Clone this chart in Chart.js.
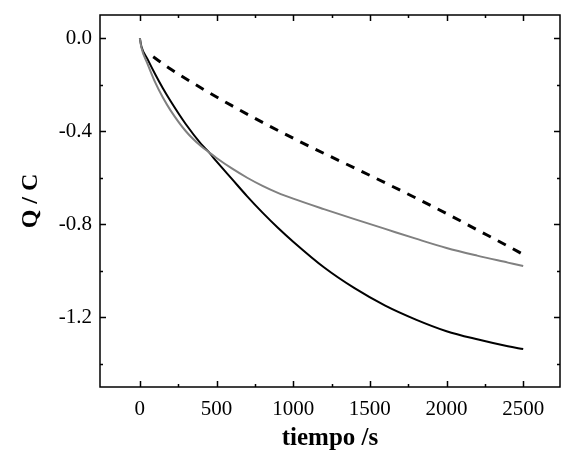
<!DOCTYPE html>
<html>
<head>
<meta charset="utf-8">
<script src="https://cdn.jsdelivr.net/npm/chart.js@4/dist/chart.umd.min.js"></script>
<style>
  html, body { margin: 0; padding: 0; background: #fff; }
  #wrap { width: 561px; height: 458px; }
</style>
</head>
<body>
<div id="wrap"><canvas id="qChart" width="561" height="458"></canvas></div>
<script>
// Datos
const tiempo = [0, 10, 50, 100, 150, 200, 300, 400, 450, 500, 600, 700, 800, 900, 1000, 1200, 1400, 1600, 1800, 2000, 2200, 2400, 2500];
const qNegro = [0, -0.035, -0.09, -0.155, -0.215, -0.27, -0.37, -0.455, -0.49, -0.53, -0.605, -0.68, -0.75, -0.815, -0.875, -0.985, -1.075, -1.15, -1.21, -1.26, -1.295, -1.325, -1.337];
const qGris = [0, -0.04, -0.11, -0.19, -0.255, -0.31, -0.40, -0.465, -0.49, -0.515, -0.56, -0.60, -0.635, -0.665, -0.69, -0.735, -0.778, -0.82, -0.862, -0.902, -0.935, -0.965, -0.98];
const tiempoDisc = [87, 200, 400, 600, 800, 1000, 1200, 1400, 1600, 1800, 2000, 2200, 2400, 2500];
const qDisc = [-0.08, -0.132, -0.214, -0.29, -0.362, -0.43, -0.495, -0.558, -0.622, -0.687, -0.754, -0.824, -0.894, -0.93];

// Marcas de los ejes
const xTicks = [0, 500, 1000, 1500, 2000, 2500];
const yTicks = [0, -0.4, -0.8, -1.2];

const FUENTE = '"Liberation Serif", "Times New Roman", serif';

function puntos(xs, ys) {
  return xs.map((t, i) => ({ x: t, y: ys[i] }));
}

// Marco y marcas hacia dentro en los cuatro lados
const marco = {
  id: 'marco',
  afterDatasetsDraw(chart) {
    const { ctx, chartArea: a, scales: { x, y } } = chart;
    ctx.save();
    ctx.strokeStyle = '#000';
    ctx.lineWidth = 1.5;
    ctx.strokeRect(a.left, a.top, a.right - a.left, a.bottom - a.top);

    ctx.beginPath();
    const xMenores = xTicks.map(v => v + 250).filter(v => v < x.max);
    const marcaX = (v, len) => {
      const px = Math.round(x.getPixelForValue(v)) + 0.5;
      ctx.moveTo(px, a.bottom); ctx.lineTo(px, a.bottom - len);
      ctx.moveTo(px, a.top); ctx.lineTo(px, a.top + len);
    };
    xTicks.forEach(v => marcaX(v, 6));
    xMenores.forEach(v => marcaX(v, 3));

    const yMenores = yTicks.map(v => v - 0.2).filter(v => v > y.min);
    const marcaY = (v, len) => {
      const py = Math.round(y.getPixelForValue(v)) + 0.5;
      ctx.moveTo(a.left, py); ctx.lineTo(a.left + len, py);
      ctx.moveTo(a.right, py); ctx.lineTo(a.right - len, py);
    };
    yTicks.forEach(v => marcaY(v, 6));
    yMenores.forEach(v => marcaY(v, 3));
    ctx.stroke();
    ctx.restore();
  }
};

const ctx = document.getElementById('qChart');
new Chart(ctx, {
  type: 'line',
  data: {
    datasets: [
      {
        data: puntos(tiempoDisc, qDisc),
        borderColor: '#000',
        borderWidth: 3,
        borderDash: [9, 8],
        pointRadius: 0,
        cubicInterpolationMode: 'monotone'
      },
      {
        data: puntos(tiempo, qGris),
        borderColor: '#808080',
        borderWidth: 2,
        pointRadius: 0,
        cubicInterpolationMode: 'monotone'
      },
      {
        data: puntos(tiempo, qNegro),
        borderColor: '#000',
        borderWidth: 2,
        pointRadius: 0,
        cubicInterpolationMode: 'monotone'
      }
    ]
  },
  options: {
    responsive: false,
    devicePixelRatio: 1,
    animation: false,
    layout: { padding: { top: 15, right: 1, bottom: 0, left: 0 } },
    plugins: {
      legend: { display: false },
      tooltip: { enabled: false }
    },
    scales: {
      x: {
        type: 'linear',
        min: -260,
        max: 2740,
        grid: { display: false, drawTicks: false },
        border: { display: false },
        afterBuildTicks: s => { s.ticks = xTicks.map(v => ({ value: v })); },
        afterFit: s => {
          s.height = 71;
          s.paddingLeft = 0;
          s.paddingRight = 0;
        },
        ticks: {
          color: '#000',
          padding: 10,
          maxRotation: 0,
          font: { family: FUENTE, size: 21 },
          callback: v => String(v)
        },
        title: {
          display: true,
          text: 'tiempo /s',
          color: '#000',
          font: { family: FUENTE, size: 25, weight: 'bold' },
          padding: { top: 0, bottom: 4 }
        }
      },
      y: {
        type: 'linear',
        min: -1.5,
        max: 0.1,
        grid: { display: false, drawTicks: false },
        border: { display: false },
        afterBuildTicks: s => { s.ticks = yTicks.map(v => ({ value: v })); },
        afterFit: s => {
          s.width = 100;
          s.paddingTop = 0;
          s.paddingBottom = 0;
        },
        ticks: {
          color: '#000',
          padding: 8,
          font: { family: FUENTE, size: 21 },
          callback: v => Number(v).toFixed(1)
        },
        title: {
          display: true,
          text: 'Q / C',
          color: '#000',
          font: { family: FUENTE, size: 24, weight: 'bold' },
          padding: { top: 16, bottom: 0 }
        }
      }
    }
  },
  plugins: [marco]
});
</script>
</body>
</html>
